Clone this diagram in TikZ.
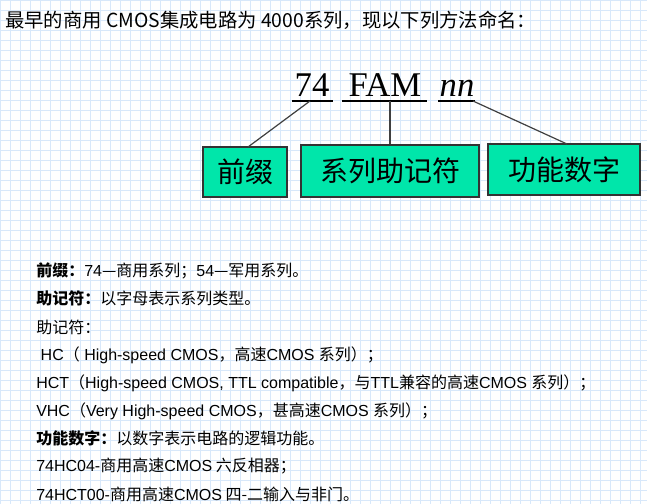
\documentclass[tikz,border=0pt]{standalone}
\usepackage{fontspec}
\setmainfont{Liberation Serif}
\newfontfamily\cjk{Noto Sans CJK SC}
\newfontfamily\arial{Liberation Sans}
\definecolor{gridc}{RGB}{200,222,248}
\definecolor{boxg}{RGB}{0,230,170}
\begin{document}
\begin{tikzpicture}[x=0.75pt,y=-0.75pt,
  lab/.style={draw=black!80,line width=1pt,fill=boxg,inner sep=0pt,font=\cjk\fontsize{21}{21}\selectfont},
  body/.style={anchor=west,inner sep=0pt,font=\cjk\fontsize{12}{13}\selectfont},
  conn/.style={draw=black!75,line width=0.9pt}]
\useasboundingbox (0,0) rectangle (647,504);
\fill[white] (0,0) rectangle (647,504);
\foreach \i in {0,10,...,650} \draw[gridc!70,line width=0.3pt] (\i,0) -- (\i,504);
\foreach \i in {0,10,...,500} \draw[gridc!70,line width=0.3pt] (0,\i) -- (647,\i);
\node[anchor=west,inner sep=0pt,font=\cjk\fontsize{14.5}{15}\selectfont] (title) at (5,20) {最早的商用 CMOS集成电路为 4000系列，现以下列方法命名：};
\node[anchor=base,inner sep=0pt,font=\fontsize{26}{26}\selectfont] (s74) at (312,96) {74};
\node[anchor=base,inner sep=0pt,font=\fontsize{26}{26}\selectfont] (fam) at (385,96) {FAM};
\node[anchor=base,inner sep=0pt,font=\fontsize{26}{26}\selectfont\itshape] (nn) at (457,96) {nn};
\draw[line width=1pt] (292,101) -- (333,101) (342,101) -- (427,101) (438,101) -- (475,101);
\coordinate (u1) at (310,101); \coordinate (u2) at (390,101); \coordinate (u3) at (473,101);
\node[lab,minimum width=63pt,minimum height=37.5pt] (b1) at (245,172) {前缀};
\node[lab,minimum width=133.5pt,minimum height=39pt] (b2) at (390,171) {系列助记符};
\node[lab,minimum width=114pt,minimum height=38.25pt] (b3) at (564,169.5) {功能数字};
\draw[conn] (u1) -- (248,147);
\draw[conn] (u2) -- (b2.north);
\draw[conn] (u3) -- (567,144);
\node[body] (l1) at (36,271) {\textbf{前缀：}{\arial 74}—商用系列；{\arial 54}—军用系列。};
\node[body] (l2) at (36,298) {\textbf{助记符：}以字母表示系列类型。};
\node[body] (l3) at (36,327) {助记符：};
\node[body] (l4) at (36,355) {\arial\ HC{\cjk（} High-speed CMOS{\cjk，}{\cjk 高速}CMOS {\cjk 系列）；}};
\node[body] (l5) at (36,383) {\arial HCT{\cjk（}High-speed CMOS, TTL compatible{\cjk，}{\cjk 与}TTL{\cjk 兼容的高速}CMOS {\cjk 系列）；}};
\node[body] (l6) at (36,411) {\arial VHC{\cjk（}Very High-speed CMOS{\cjk，}{\cjk 甚高速}CMOS {\cjk 系列）；}};
\node[body] (l7) at (36,438) {\textbf{功能数字：}以数字表示电路的逻辑功能。};
\node[body] (l8) at (36,466) {{\arial 74HC04-}商用高速{\arial CMOS} 六反相器；};
\node[body] (l9) at (36,494) {{\arial 74HCT00-}商用高速{\arial CMOS} 四-二输入与非门。};
\end{tikzpicture}
\end{document}
